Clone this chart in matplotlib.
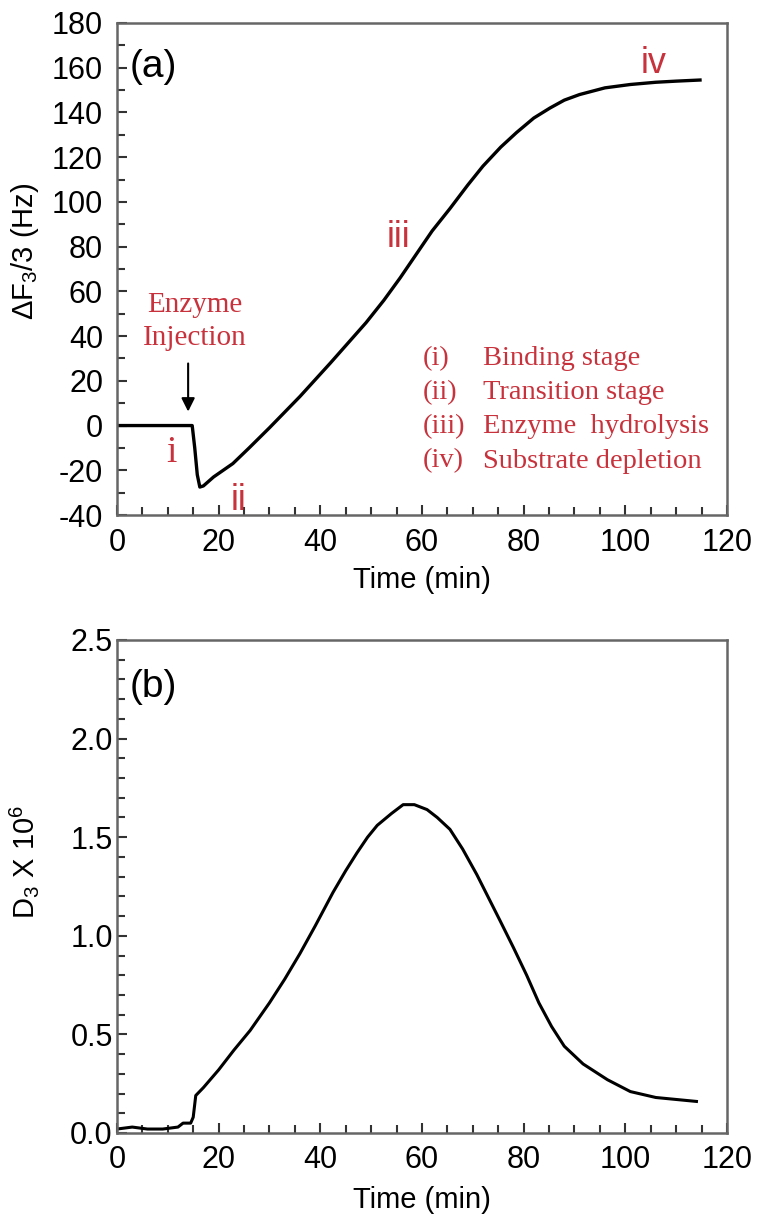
import numpy as np
import matplotlib
matplotlib.use("Agg")
import matplotlib.pyplot as plt
from matplotlib.ticker import MultipleLocator, FormatStrFormatter

plt.rcParams.update({
    "font.family": "Liberation Sans",
    "mathtext.default": "regular",
    "axes.unicode_minus": False,
    "font.size": 21,
})

# Panel (a): frequency shift
t_freq = [0, 14.8, 15.3, 15.8, 16.3, 17, 19, 22.8, 26, 30, 33, 36, 39, 42,
          45.5, 49, 52.5, 55.7, 59, 62, 65.5, 69, 72, 75.5, 78.6, 82,
          85.2, 88, 91, 96, 101, 106, 110, 114.7]
dF = [0, 0, -10, -22, -27.5, -27, -23, -17, -10, -1, 6, 13, 20.5, 28,
      37, 46, 56, 66, 77, 87, 97, 107.5, 116, 124.5, 131, 137.5,
      142, 145.5, 148, 151, 152.5, 153.5, 154, 154.5]

# Panel (b): dissipation
t_diss = [0, 3, 6, 9, 12, 13, 14.5, 15, 15.5, 17, 20, 23, 26.2, 30, 33, 36,
          39, 42.5, 45, 47.2, 49.3, 51.2, 54, 56.3, 58.5, 61, 63, 65.5, 68,
          70.8, 75.3, 78, 80.6, 83, 85.5, 88, 91.7, 96.5, 101, 106, 110, 114]
D3 = [0.02, 0.03, 0.02, 0.02, 0.03, 0.05, 0.05, 0.08, 0.19, 0.23, 0.32,
      0.42, 0.52, 0.66, 0.78, 0.91, 1.05, 1.22, 1.33, 1.42, 1.50, 1.56,
      1.62, 1.665, 1.665, 1.64, 1.60, 1.54, 1.44, 1.31, 1.08, 0.94, 0.80,
      0.66, 0.54, 0.44, 0.35, 0.27, 0.21, 0.18, 0.17, 0.16]

stage_labels = ["i", "ii", "iii", "iv"]
stage_pos = [(10.8, -12), (24.0, -33.5), (55.4, 84), (105.5, 162)]
stage_legend = [("(i)", "Binding stage"), ("(ii)", "Transition stage"),
                ("(iii)", "Enzyme  hydrolysis"), ("(iv)", "Substrate depletion")]

RED = "#c8323c"
SPINE = "#666666"
SERIF = "Liberation Serif"

fig = plt.figure(figsize=(7.62, 12.23), dpi=100)
ax_a = fig.add_axes([0.1535, 0.5789, 0.8005, 0.4023])
ax_b = fig.add_axes([0.1535, 0.0736, 0.8005, 0.4031])


def style(ax):
    for s in ax.spines.values():
        s.set_color(SPINE)
        s.set_linewidth(1.8)
    ax.tick_params(which="both", direction="in", top=False, right=False,
                   color="#333333", width=1.5, labelsize=22)
    ax.tick_params(which="major", length=7)
    ax.tick_params(which="minor", length=6)
    ax.tick_params(axis="x", pad=9)
    ax.tick_params(axis="y", pad=10)


# (a)
ax_a.plot(t_freq, dF, color="black", linewidth=2.4)
ax_a.set_xlim(0, 120)
ax_a.set_ylim(-40, 180)
ax_a.xaxis.set_major_locator(MultipleLocator(20))
ax_a.xaxis.set_minor_locator(MultipleLocator(5))
ax_a.yaxis.set_major_locator(MultipleLocator(20))
ax_a.yaxis.set_minor_locator(MultipleLocator(10))
style(ax_a)
ax_a.set_xlabel("Time (min)", fontsize=21)
ax_a.set_ylabel(r"$\Delta$F$_3$/3 (Hz)", fontsize=21)
ax_a.xaxis.set_label_coords(0.5, -0.104)
ax_a.yaxis.set_label_coords(-0.125, 0.535)
ax_a.text(0.021, 0.91, "(a)", transform=ax_a.transAxes, fontsize=28,
          va="center", ha="left")

ax_a.text(15.3, 46.5, "Enzyme\nInjection", color=RED, family=SERIF,
          fontsize=21, ha="center", va="center", linespacing=1.35)
ax_a.annotate("", xy=(14, 5), xytext=(14, 29),
              arrowprops=dict(arrowstyle="-|>", color="black", lw=1.5,
                              mutation_scale=20))

for lab, (x, y) in zip(stage_labels, stage_pos):
    fam = SERIF if lab == "i" else "Liberation Sans"
    ax_a.text(x, y, lab, color=RED, family=fam,
              fontsize=27 if lab == "i" else 26, ha="center", va="center")

for k, (num, desc) in enumerate(stage_legend):
    y = 30 - k * 15.3
    ax_a.text(60.2, y, num, color=RED, family=SERIF, fontsize=20.5,
              ha="left", va="center")
    ax_a.text(72.0, y, desc, color=RED, family=SERIF, fontsize=20.5,
              ha="left", va="center")

# (b)
ax_b.plot(t_diss, D3, color="black", linewidth=2.2)
ax_b.set_xlim(0, 120)
ax_b.set_ylim(0, 2.5)
ax_b.xaxis.set_major_locator(MultipleLocator(20))
ax_b.xaxis.set_minor_locator(MultipleLocator(5))
ax_b.yaxis.set_major_locator(MultipleLocator(0.5))
ax_b.yaxis.set_minor_locator(MultipleLocator(0.1))
ax_b.yaxis.set_major_formatter(FormatStrFormatter("%.1f"))
style(ax_b)
ax_b.tick_params(axis="y", pad=3)
ax_b.set_xlabel("Time (min)", fontsize=21)
ax_b.set_ylabel(r"D$_3$ X 10$^6$", fontsize=21)
ax_b.xaxis.set_label_coords(0.5, -0.108)
ax_b.yaxis.set_label_coords(-0.125, 0.55)
ax_b.text(0.021, 0.905, "(b)", transform=ax_b.transAxes, fontsize=28,
          va="center", ha="left")

fig.savefig("out.png", dpi=100)
